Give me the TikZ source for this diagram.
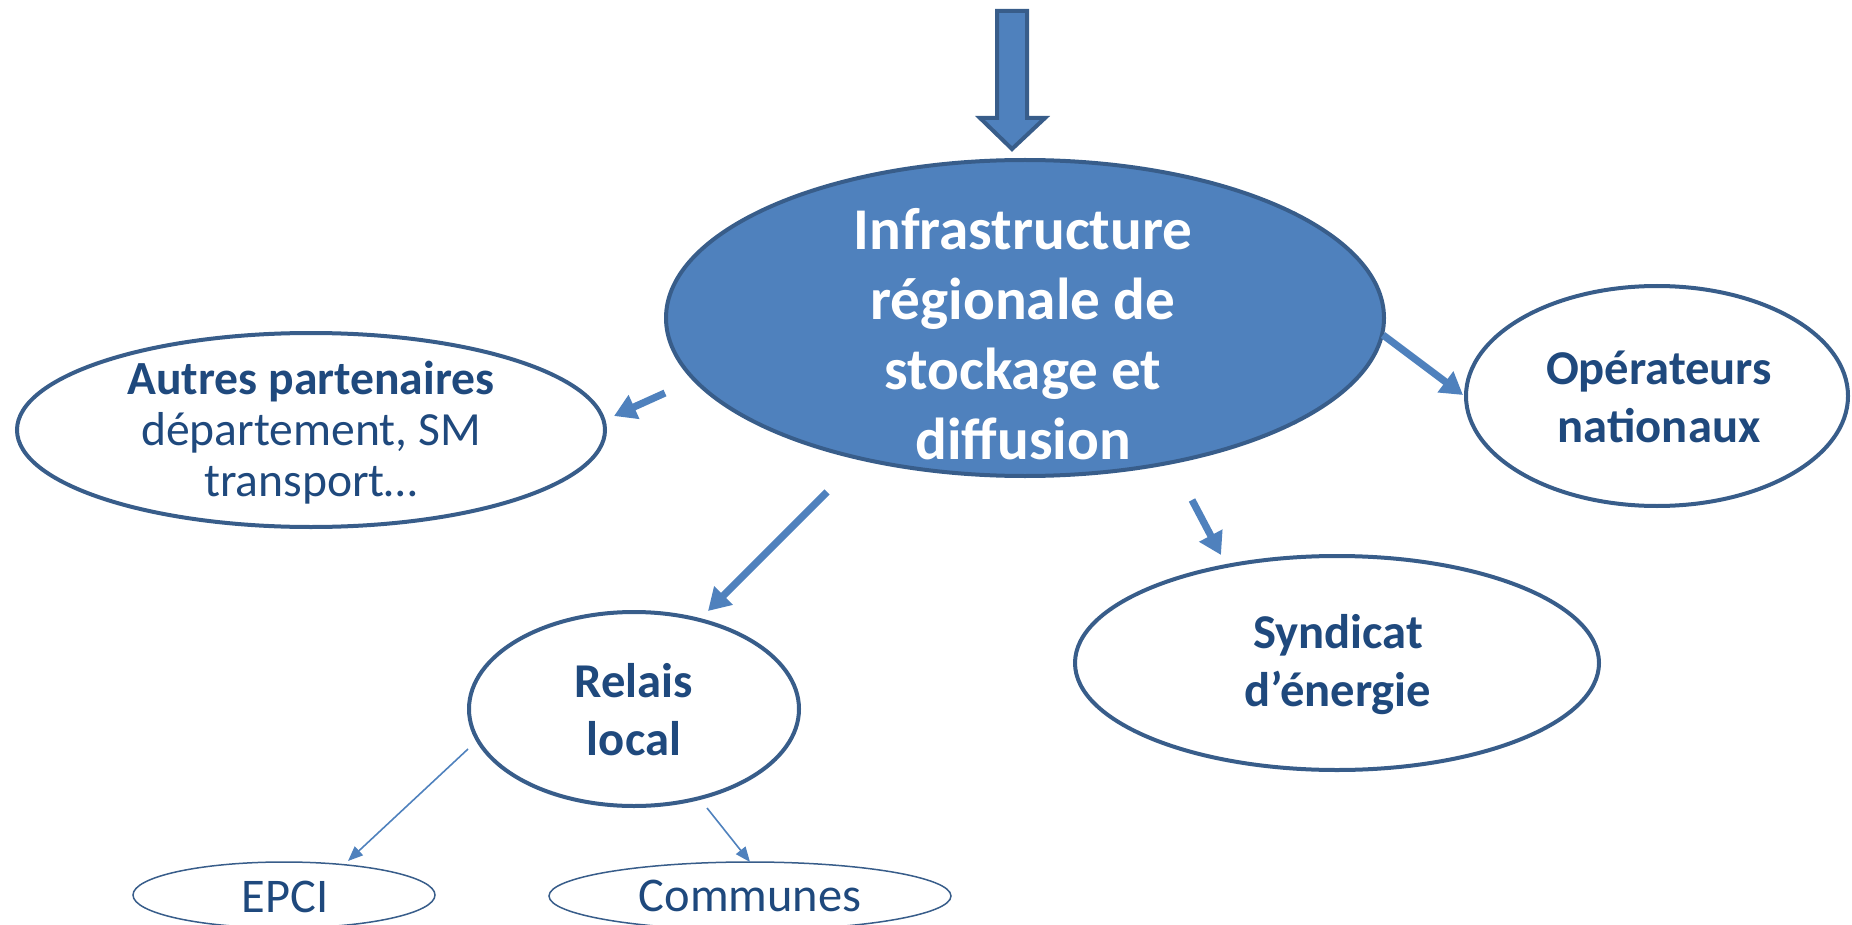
\documentclass[tikz,border=0pt]{standalone}
\usepackage{fontspec}
\setmainfont{Carlito}
\usetikzlibrary{shapes.geometric,arrows.meta}
\definecolor{fillblue}{HTML}{4F81BD}
\definecolor{edgeblue}{HTML}{385D8A}
\definecolor{txtblue}{HTML}{1F497D}
\begin{document}
\begin{tikzpicture}[x=0.5pt,y=-0.5pt,
  oval/.style={ellipse,draw=edgeblue,line width=2pt,fill=white,inner sep=0pt},
  thinoval/.style={ellipse,draw=edgeblue,line width=0.75pt,fill=white,inner sep=0pt},
  mainoval/.style={ellipse,draw=edgeblue,line width=2pt,fill=fillblue,inner sep=0pt},
  lbl/.style={text=txtblue,align=center,inner sep=0pt,font=\fontsize{24.3}{29}\selectfont\bfseries},
  smalllbl/.style={text=txtblue,align=center,inner sep=0pt,font=\fontsize{24.2}{28}\selectfont},
  bigarrow/.style={draw=fillblue,line width=3.6pt,-{Triangle[length=11pt,width=12.5pt]}},
  thinarrow/.style={draw=fillblue,line width=0.8pt,-{Triangle[length=7.5pt,width=6pt]}}
]
\useasboundingbox (0,0) rectangle (1852,925);

% top block arrow
\draw[fill=fillblue,draw=edgeblue,line width=2pt,line join=miter]
  (997,11) -- (1027,11) -- (1027,118) -- (1045,118) -- (1012,149) -- (980,118) -- (997,118) -- cycle;

% ellipses
\node[mainoval,minimum width=359pt,minimum height=158pt] (main) at (1025,318) {};
\node[oval,minimum width=294pt,minimum height=97pt] (autres) at (311,430) {};
\node[oval,minimum width=191pt,minimum height=110pt] (oper) at (1657,396) {};
\node[oval,minimum width=262pt,minimum height=107pt] (synd) at (1337,663) {};
\node[oval,minimum width=165pt,minimum height=97pt] (relais) at (634,709) {};
\node[thinoval,minimum width=151pt,minimum height=33pt] (epci) at (284,895) {};
\node[thinoval,minimum width=201pt,minimum height=34pt] (communes) at (750,896) {};

% texts
\node[text=white,align=center,inner sep=0pt,font=\fontsize{29.6}{35}\selectfont\bfseries] (mainT) at (1023,334)
  {Infrastructure\\régionale de\\stockage et\\diffusion};
\node[text=txtblue,align=center,inner sep=0pt,font=\fontsize{23.8}{25.5}\selectfont] (autresT) at (311,433)
  {\textbf{Autres partenaires}\\département, SM\\transport…};
\node[lbl] (operT) at (1659,397) {Opérateurs\\nationaux};
\node[lbl] (syndT) at (1338,665) {Syndicat\\d’énergie};
\node[lbl] (relaisT) at (634,710) {Relais\\local};
\node[smalllbl] (epciT) at (285,897) {EPCI};
\node[smalllbl] (communesT) at (750,896) {Communes};

% connector end points
\coordinate (c1s) at (665,393);  \coordinate (c1e) at (614,416);
\coordinate (c2s) at (827,492);  \coordinate (c2e) at (708,611);
\coordinate (c3s) at (1192,500); \coordinate (c3e) at (1221,555);
\coordinate (c4s) at (1383,335); \coordinate (c4e) at (1463,395);
\coordinate (c5s) at (468,749);  \coordinate (c5e) at (348,861);
\coordinate (c6s) at (707,808);  \coordinate (c6e) at (750,862);

\draw[bigarrow] (c1s) -- (c1e);
\draw[bigarrow] (c2s) -- (c2e);
\draw[bigarrow] (c3s) -- (c3e);
\draw[bigarrow] (c4s) -- (c4e);
\draw[thinarrow] (c5s) -- (c5e);
\draw[thinarrow] (c6s) -- (c6e);
\end{tikzpicture}
\end{document}
